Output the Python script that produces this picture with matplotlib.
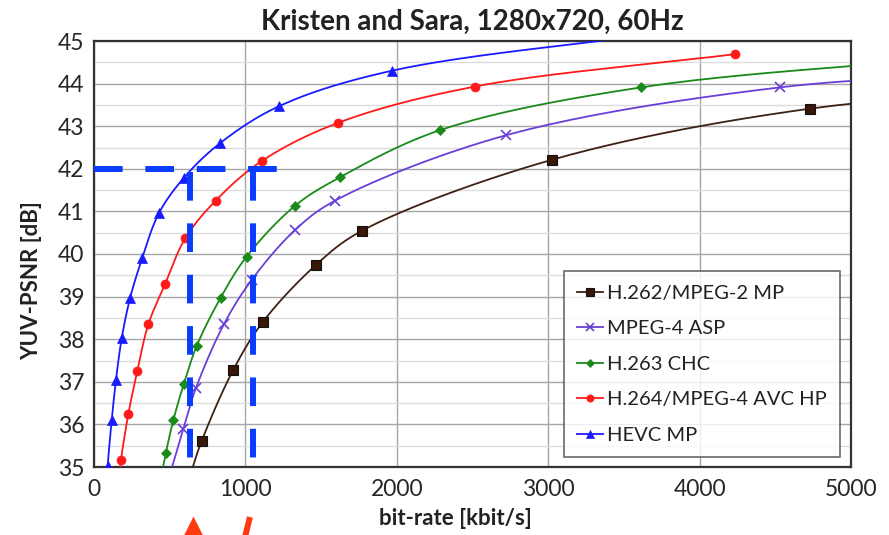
import numpy as np
import matplotlib
matplotlib.use("Agg")
import matplotlib.pyplot as plt
from matplotlib.ticker import MultipleLocator
from matplotlib.transforms import blended_transform_factory

plt.rcParams['font.family'] = ['Lato', 'DejaVu Sans']

# Rate-distortion points (bit-rate in kbit/s, PSNR in dB) per codec.
# End points outside the visible window keep the smoothed curves running to the frame.
h262_rate = [630, 711, 920, 1114, 1465, 1767, 3023, 4726, 6500]
h262_psnr = [34.75, 35.61, 37.28, 38.40, 39.74, 40.54, 42.21, 43.41, 43.90]

mpeg4_rate = [495, 590, 673, 858, 1041, 1327, 1591, 2724, 4528, 6000]
mpeg4_psnr = [34.75, 35.90, 36.85, 38.35, 39.39, 40.56, 41.25, 42.79, 43.91, 44.25]

h263_rate = [430, 475, 524, 594, 678, 836, 1008, 1327, 1624, 2288, 3611, 5800]
h263_psnr = [34.55, 35.34, 36.10, 36.96, 37.84, 38.97, 39.94, 41.13, 41.80, 42.91, 43.91, 44.65]

h264_rate = [160, 178, 227, 286, 359, 469, 603, 803, 1107, 1613, 2515, 4231]
h264_psnr = [34.60, 35.16, 36.25, 37.25, 38.35, 39.29, 40.37, 41.25, 42.18, 43.08, 43.93, 44.69]

hevc_rate = [75, 90, 117, 145, 183, 238, 319, 429, 594, 832, 1223, 1965, 3900]
hevc_psnr = [34.30, 35.03, 36.10, 37.04, 38.02, 38.96, 39.91, 40.96, 41.79, 42.60, 43.47, 44.30, 45.25]

series_names = ["H.262/MPEG-2 MP", "MPEG-4 ASP", "H.263 CHC",
                "H.264/MPEG-4 AVC HP", "HEVC MP"]

# Equal-quality guide: 42 dB and the rates where it is reached
target_psnr = 42
guide_rates = [634, 1047]
guide_end = 1240

x_ticks = [0, 1000, 2000, 3000, 4000, 5000]
y_ticks = [35, 36, 37, 38, 39, 40, 41, 42, 43, 44, 45]

styles = [
    dict(color="#3d2114", marker="s", ms=6.5, mfc="#3a1606", mec="#111111", mew=0.8),
    dict(color="#6a3fd8", marker="x", ms=7, mfc="none", mec="#6a3fd8", mew=1.2),
    dict(color="#1a8a1a", marker="D", ms=5.2, mfc="#1a8a1a", mec="#1a8a1a", mew=0.5),
    dict(color="#ff1a1a", marker="o", ms=6.5, mfc="#ff1a1a", mec="#ff1a1a", mew=0.5),
    dict(color="#1a1aff", marker="^", ms=7.5, mfc="#1a1aff", mec="#1a1aff", mew=0.5),
]


def smooth(xs, ys, xscale, yscale, n=40, alpha=0.5):
    """Centripetal Catmull-Rom curve through the points (scaled to screen proportions)."""
    p = np.column_stack([np.asarray(xs, float) * xscale, np.asarray(ys, float) * yscale])
    p = np.vstack([2 * p[0] - p[1], p, 2 * p[-1] - p[-2]])
    out = []
    for i in range(1, len(p) - 2):
        P0, P1, P2, P3 = p[i - 1], p[i], p[i + 1], p[i + 2]
        t0 = 0.0
        t1 = t0 + np.linalg.norm(P1 - P0) ** alpha
        t2 = t1 + np.linalg.norm(P2 - P1) ** alpha
        t3 = t2 + np.linalg.norm(P3 - P2) ** alpha
        t = np.linspace(t1, t2, n, endpoint=False)[:, None]
        A1 = (t1 - t) / (t1 - t0) * P0 + (t - t0) / (t1 - t0) * P1
        A2 = (t2 - t) / (t2 - t1) * P1 + (t - t1) / (t2 - t1) * P2
        A3 = (t3 - t) / (t3 - t2) * P2 + (t - t2) / (t3 - t2) * P3
        B1 = (t2 - t) / (t2 - t0) * A1 + (t - t0) / (t2 - t0) * A2
        B2 = (t3 - t) / (t3 - t1) * A2 + (t - t1) / (t3 - t1) * A3
        out.append((t2 - t) / (t2 - t1) * B1 + (t - t1) / (t2 - t1) * B2)
    out.append(p[-2][None, :])
    c = np.vstack(out)
    return c[:, 0] / xscale, c[:, 1] / yscale


fig = plt.figure(figsize=(8.89, 5.35), dpi=100)
ax = fig.add_axes([94 / 889, (535 - 467) / 535, 757 / 889, 426 / 535])

ax.set_xlim(0, 5000)
ax.set_ylim(35, 45)
ax.set_xticks(x_ticks)
ax.set_yticks(y_ticks)
ax.yaxis.set_minor_locator(MultipleLocator(0.5))
ax.grid(True, which="major", axis="both", color="#a6a6a6", lw=1.0)
ax.grid(True, which="minor", axis="y", color="#dcdcdc", lw=1.0)
ax.set_axisbelow(True)
ax.tick_params(which="both", length=0, labelsize=16.5, colors="#262626")
ax.tick_params(axis="x", pad=9)
ax.tick_params(axis="y", pad=7)
for s in ax.spines.values():
    s.set_color("#333333")
    s.set_linewidth(1.6)

all_series = [(h262_rate, h262_psnr), (mpeg4_rate, mpeg4_psnr), (h263_rate, h263_psnr),
              (h264_rate, h264_psnr), (hevc_rate, hevc_psnr)]
handles = []
for (r, q), name, st in zip(all_series, series_names, styles):
    sx, sy = smooth(r, q, 757 / 5000, 426 / 10)
    ax.plot(sx, sy, color=st["color"], lw=1.3, zorder=3)
    ax.plot(r, q, ls="none", marker=st["marker"], ms=st["ms"], mfc=st["mfc"],
            mec=st["mec"], mew=st["mew"], zorder=4)
    h, = ax.plot([], [], color=st["color"], lw=1.3, marker=st["marker"], ms=st["ms"] * 0.8,
                 mfc=st["mfc"], mec=st["mec"], mew=st["mew"], label=name)
    handles.append(h)

# Dashed guide lines at 42 dB
guide_kw = dict(color="#0a3cff", lw=4.3, dashes=(4.8, 3.8), dash_capstyle="butt",
                zorder=5, clip_on=False)
ax.plot([0, guide_end], [target_psnr, target_psnr], **guide_kw)
for gx in guide_rates:
    ax.plot([gx, gx], [target_psnr - 0.08, 35], **guide_kw)

leg = ax.legend(handles=handles, loc="lower right", bbox_to_anchor=(0.985, 0.023),
                fontsize=14.5, frameon=True, fancybox=False, borderpad=0.65,
                labelspacing=0.92, handlelength=1.3, handletextpad=0.2,
                borderaxespad=0)
leg.get_frame().set_edgecolor("#444444")
leg.get_frame().set_linewidth(1.2)
for t in leg.get_texts():
    t.set_color("#222222")

ax.set_title("Kristen and Sara, 1280x720, 60Hz", fontsize=20, fontweight="bold",
             color="#222222", pad=8)
ax.set_xlabel("bit-rate [kbit/s]", fontsize=16, fontweight="bold", color="#222222",
              va="top")
ax.xaxis.set_label_coords(0.478, -0.097)
ax.set_ylabel("YUV-PSNR [dB]", fontsize=16, fontweight="bold", color="#222222")
ax.yaxis.set_label_coords(-0.069, 0.437)

# Red pointers under the axis toward the guide rates
bt = blended_transform_factory(ax.transData, fig.transFigure)
ax.plot([653], [-0.002], transform=bt, marker="^", ms=29, color="#ff3a10",
        mec="none", clip_on=False, ls="none")
ax.plot([1030, 960], [(535 - 517) / 535, (535 - 560) / 535], transform=bt,
        color="#ff3a10", lw=4.3, solid_capstyle="butt", clip_on=False)

fig.savefig("out.png", dpi=100)
